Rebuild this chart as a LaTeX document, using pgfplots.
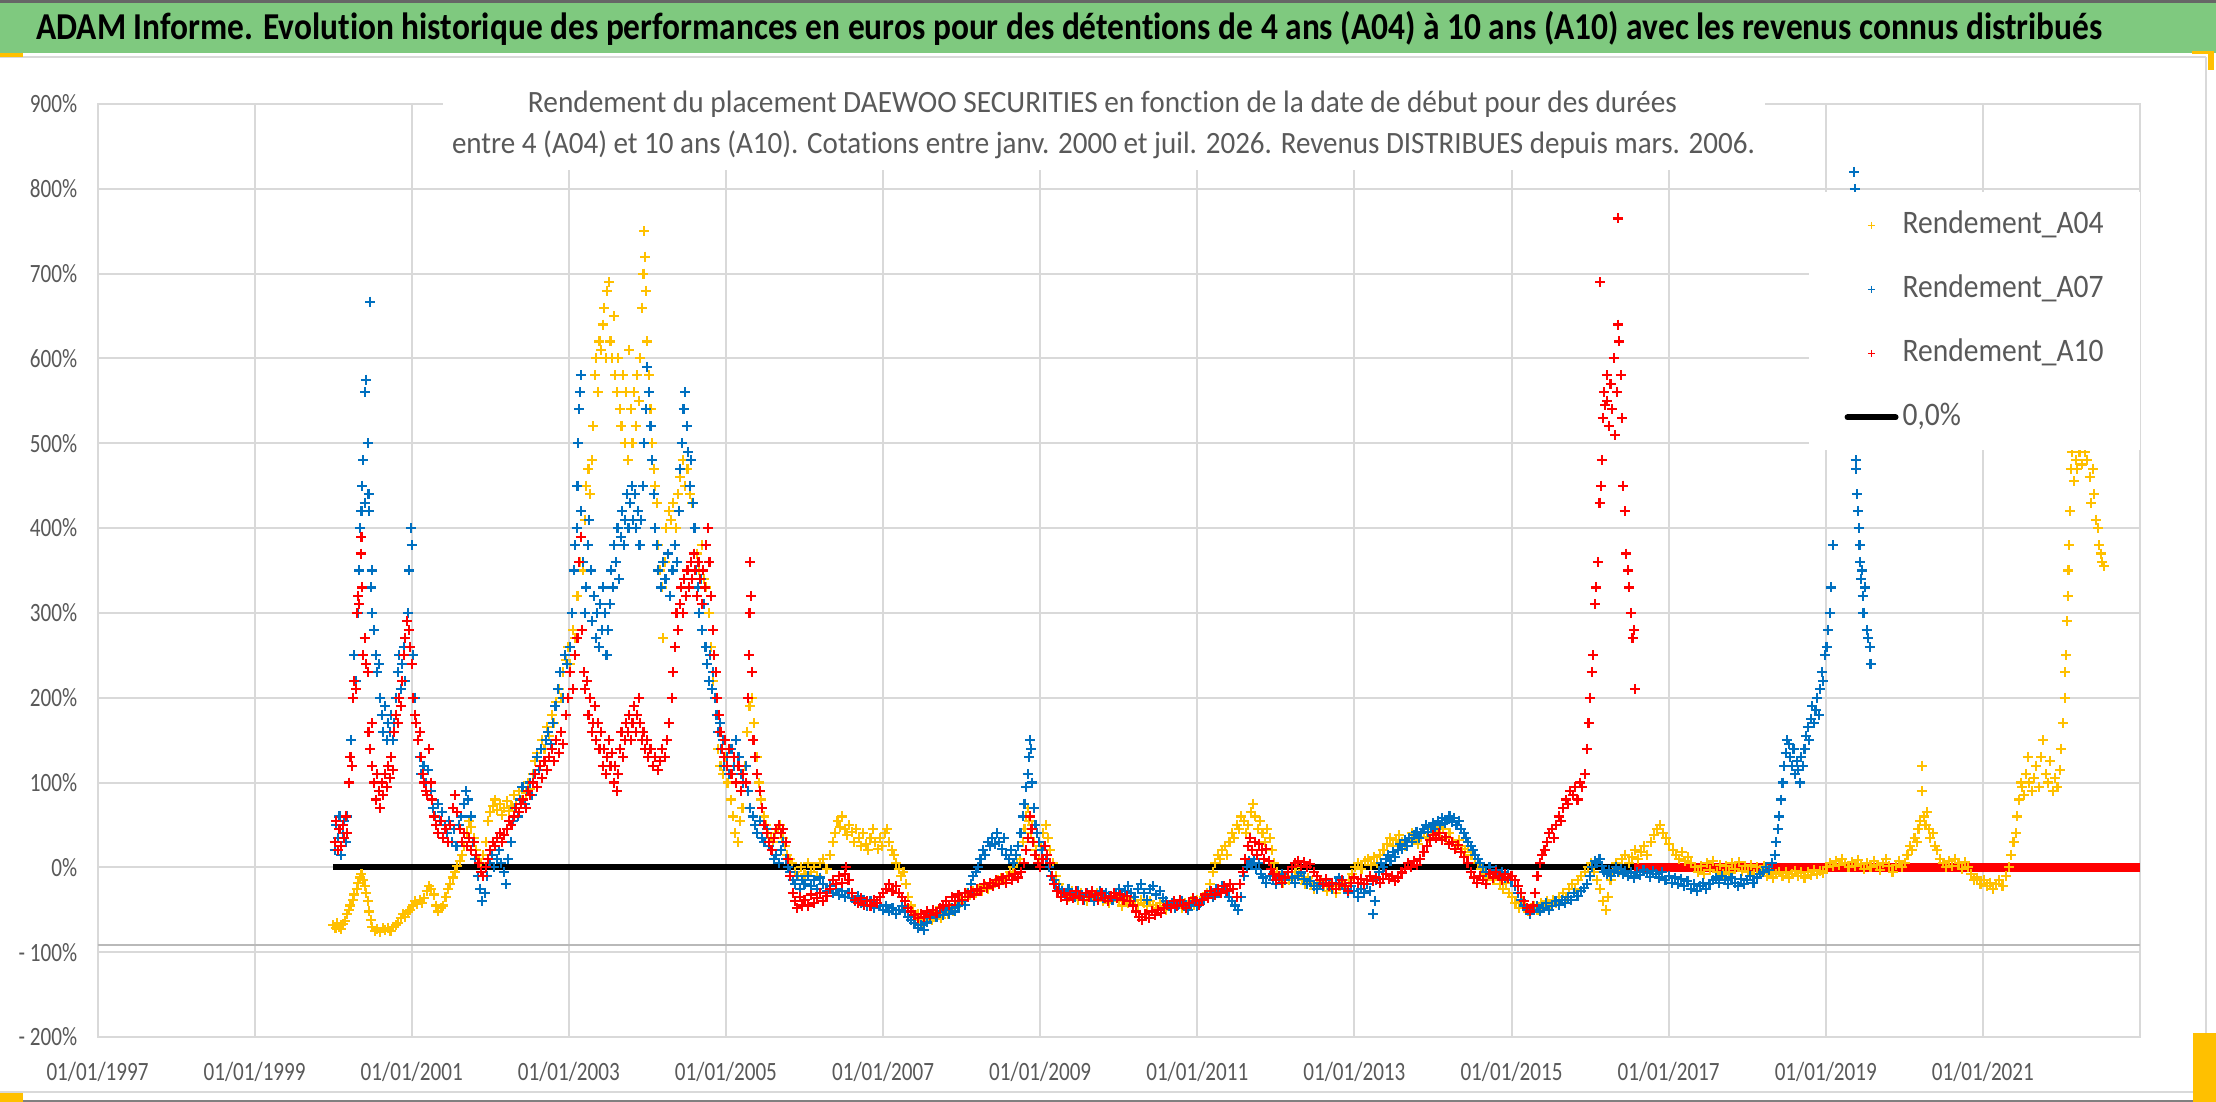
\documentclass[border=0pt]{standalone}
\usepackage{fontspec}
\setmainfont{Carlito}[Ligatures=NoCommon]
\newfontfamily\tickfont{Carlito}[FakeStretch=0.8]
\newfontfamily\legfont{Carlito}[FakeStretch=0.9]
\usepackage{graphicx}
\usepackage{pgfplots}
\pgfplotsset{compat=1.18}
\definecolor{cA04}{HTML}{FFC000}
\definecolor{cA07}{HTML}{0070C0}
\definecolor{cA10}{HTML}{FF0000}
\definecolor{gridc}{HTML}{D9D9D9}
\definecolor{txt}{HTML}{595959}
\definecolor{banner}{HTML}{7FC97F}
\pgfplotsset{
  markleg/.style={legend image code/.code={\draw[mark repeat=2,mark phase=2,##1,mark size=1.8pt,mark options={line width=0.7pt}] plot coordinates {(0pt,0pt) (12pt,0pt) (24pt,0pt)};}},
  lineleg/.style={legend image code/.code={\draw[##1, line cap=round] (0pt,0pt) -- (24pt,0pt);}},
}
\begin{document}
\begin{tikzpicture}[x=1pt,y=1pt]
\useasboundingbox (0,0) rectangle (1108,551);
\fill[white] (0,0) rectangle (1108,551);
\fill[banner] (0,524.5) rectangle (1108,551);
\draw[black!60, line width=1.5pt] (0,550.25) -- (1108,550.25);
\draw[gridc, line width=1pt] (0,522.5) -- (1103,522.5);
\draw[gridc, line width=1pt] (1103,522.5) -- (1103,5) -- (0,5);
\draw[black!50, line width=1pt] (0,0.5) -- (1108,0.5);
\fill[cA04] (0,0) rectangle (11.5,4.5);
\fill[cA04] (1096.5,0) rectangle (1108,34.5);
\fill[cA04] (1096,524) rectangle (1107,525.5);
\fill[cA04] (1104,516) rectangle (1107,525.5);
\fill[cA04] (0,522.5) rectangle (11.5,524.5);
\node[anchor=base west, inner sep=0pt] at (18,531.4) {\resizebox{1033pt}{\height}{\bfseries\fontsize{19}{22}\selectfont ADAM Informe. Evolution historique des performances en euros pour des détentions de 4 ans (A04) à 10 ans (A10) avec les revenus connus distribués}};
\begin{axis}[
  at={(48.75pt,32.5pt)}, anchor=south west,
  scale only axis, width=1021.25pt, height=466.5pt,
  xmin=1997, xmax=2023, ymin=-200, ymax=900,
  xtick={1997,1999,...,2021},
  xticklabels={01/01/1997,01/01/1999,01/01/2001,01/01/2003,01/01/2005,01/01/2007,01/01/2009,01/01/2011,01/01/2013,01/01/2015,01/01/2017,01/01/2019,01/01/2021},
  ytick={-200,-100,...,900},
  yticklabels={- 200\%,- 100\%,0\%,100\%,200\%,300\%,400\%,500\%,600\%,700\%,800\%,900\%},
  major tick length=0pt, tick style={draw=none},
  grid=major, major grid style={gridc, line width=1pt},
  axis line style={gridc, line width=1pt},
  ticklabel style={font=\tickfont\fontsize{13.2}{15}\selectfont, text=txt},
  xticklabel style={anchor=base, inner sep=0pt, yshift=-21.6pt},
  yticklabel style={anchor=east, inner sep=0pt, xshift=-10pt},
  legend style={at={(rel axis cs:1,0.9057)}, anchor=north east, draw=none, fill=white,
    font=\legfont\fontsize{16.4}{19}\selectfont, text=txt, inner xsep=18pt, inner ysep=9.5pt,
    row sep=18pt, nodes={inner sep=0pt, text height=11pt, text depth=3pt},
    /tikz/every odd column/.append style={column sep=2pt}},
  legend cell align=left,
  mark options={line width=1.05pt},
]
\addplot[gray!55, line width=1pt, forget plot] coordinates {(1997,-91) (2023,-91)};
\addplot[black, line width=3pt, forget plot] coordinates {(2000.0,0) (2016.56,0)};
% ---------- A04 ----------
\addplot[only marks, mark=+, mark size=2.5pt, cA04, markleg]
coordinates {
(2000.00,-68) (2000.03,-72) (2000.05,-66) (2000.08,-70) (2000.10,-73) (2000.13,-67) (2000.15,-63) (2000.18,-55) (2000.20,-50) (2000.22,-45)
(2000.25,-38) (2000.27,-32) (2000.30,-25) (2000.32,-18) (2000.34,-12) (2000.36,-8) (2000.38,-15) (2000.40,-22) (2000.42,-30) (2000.44,-40)
(2000.46,-52) (2000.48,-62) (2000.50,-70) (2000.53,-75) (2000.56,-73) (2000.60,-76) (2000.63,-72) (2000.66,-74) (2000.70,-71) (2000.73,-75)
(2000.76,-70) (2000.80,-68) (2000.83,-66) (2000.86,-60) (2000.89,-55) (2000.92,-58) (2000.95,-52) (2000.98,-50) (2001.01,-45) (2001.04,-40)
(2001.07,-43) (2001.10,-38) (2001.13,-42) (2001.16,-36) (2001.19,-28) (2001.22,-22) (2001.25,-26) (2001.28,-32) (2001.31,-45) (2001.34,-52)
(2001.37,-48) (2001.40,-45) (2001.43,-35) (2001.46,-25) (2001.49,-20) (2001.52,-12) (2001.55,-5) (2001.58,2) (2001.61,8) (2001.64,15)
(2001.67,25) (2001.70,40) (2001.73,55) (2001.76,48) (2001.79,35) (2001.82,20) (2001.85,10) (2001.88,5) (2001.91,15) (2001.94,30)
(2001.97,55) (2002.00,65) (2002.03,72) (2002.06,80) (2002.09,68) (2002.12,75) (2002.15,62) (2002.18,70) (2002.21,78) (2002.24,66)
(2002.27,72) (2002.30,85) (2002.33,75) (2002.36,90) (2002.39,80) (2002.42,95) (2002.45,88) (2002.48,100) (2002.51,92) (2002.54,110)
(2002.57,125) (2002.60,135) (2002.63,120) (2002.66,150) (2002.69,140) (2002.72,165) (2002.75,155) (2002.78,180) (2002.81,170) (2002.84,195)
(2002.87,210) (2002.90,200) (2002.93,230) (2002.96,245) (2002.99,260) (2003.02,240) (2003.05,280) (2003.08,270) (2003.11,320) (2003.14,360)
(2003.16,390) (2003.18,350) (2003.20,410) (2003.22,450) (2003.25,470) (2003.27,440) (2003.29,480) (2003.31,520) (2003.33,580) (2003.35,600)
(2003.37,560) (2003.39,620) (2003.41,610) (2003.43,640) (2003.45,660) (2003.47,600) (2003.49,680) (2003.51,690) (2003.53,620) (2003.55,600)
(2003.57,650) (2003.59,580) (2003.61,560) (2003.63,600) (2003.65,540) (2003.67,520) (2003.69,580) (2003.71,500) (2003.73,560) (2003.75,480)
(2003.77,610) (2003.79,540) (2003.81,500) (2003.83,560) (2003.85,520) (2003.87,580) (2003.89,550) (2003.91,600) (2003.93,660) (2003.95,700)
(2003.96,750) (2003.97,720) (2003.98,680) (2004.00,620) (2004.02,580) (2004.04,540) (2004.06,500) (2004.08,470) (2004.10,450) (2004.12,430)
(2004.14,380) (2004.16,350) (2004.18,330) (2004.20,270) (2004.22,360) (2004.24,400) (2004.27,420) (2004.30,410) (2004.33,430) (2004.36,400)
(2004.39,440) (2004.42,460) (2004.45,480) (2004.48,450) (2004.51,470) (2004.54,440) (2004.57,430) (2004.60,400) (2004.63,370) (2004.66,350)
(2004.69,380) (2004.72,340) (2004.75,330) (2004.78,300) (2004.81,260) (2004.84,220) (2004.87,200) (2004.90,140) (2004.93,120) (2004.96,110)
(2004.99,130) (2005.02,100) (2005.06,80) (2005.09,60) (2005.12,40) (2005.15,30) (2005.18,55) (2005.21,70) (2005.24,120) (2005.27,160)
(2005.30,190) (2005.33,200) (2005.36,170) (2005.39,130) (2005.42,100) (2005.45,80) (2005.48,60) (2005.51,50) (2005.54,40) (2005.57,35)
(2005.60,30) (2005.63,40) (2005.66,45) (2005.69,50) (2005.72,35) (2005.75,25) (2005.78,15) (2005.81,10)
(2005.84,5) (2005.88,-5) (2005.92,-10) (2005.96,0) (2006.00,-8) (2006.04,5) (2006.08,-5) (2006.12,0) (2006.16,-10) (2006.20,5)
(2006.24,10) (2006.28,-2) (2006.32,15) (2006.36,30) (2006.39,40) (2006.42,55) (2006.45,48) (2006.48,60) (2006.51,45) (2006.54,38)
(2006.57,50) (2006.60,42) (2006.63,30) (2006.66,45) (2006.69,35) (2006.72,25) (2006.75,40) (2006.78,28) (2006.81,20) (2006.84,35)
(2006.87,45) (2006.90,30) (2006.93,22) (2006.96,35) (2006.99,25) (2007.02,40) (2007.05,45) (2007.08,30) (2007.11,20) (2007.14,15)
(2007.17,5) (2007.20,-2) (2007.23,-10) (2007.26,-5) (2007.29,-20) (2007.32,-35) (2007.35,-45) (2007.38,-52) (2007.41,-58) (2007.44,-55)
(2007.47,-62) (2007.50,-65) (2007.53,-58) (2007.56,-60) (2007.59,-55) (2007.62,-62) (2007.65,-58) (2007.68,-52) (2007.71,-56) (2007.74,-60)
(2007.77,-54) (2007.80,-50) (2007.83,-55) (2007.86,-48) (2007.89,-52) (2007.92,-45) (2007.95,-40) (2007.98,-42) (2008.01,-38) (2008.04,-35)
(2008.07,-30) (2008.10,-33) (2008.14,-28) (2008.18,-30) (2008.22,-25) (2008.26,-28) (2008.30,-22) (2008.34,-25) (2008.38,-20) (2008.42,-18)
(2008.46,-15) (2008.50,-12) (2008.54,-15) (2008.58,-10) (2008.62,-5) (2008.66,0) (2008.70,5) (2008.74,10) (2008.78,30) (2008.80,45)
(2008.82,60) (2008.84,70) (2008.86,55) (2008.88,40) (2008.90,50) (2008.92,30) (2008.95,20) (2008.98,10) (2009.01,25) (2009.04,40)
(2009.07,50) (2009.10,35) (2009.13,20) (2009.16,5) (2009.20,-10) (2009.24,-20) (2009.28,-25) (2009.32,-30) (2009.36,-35) (2009.40,-28)
(2009.44,-32) (2009.48,-38) (2009.52,-30) (2009.56,-35) (2009.60,-40) (2009.64,-33) (2009.68,-37) (2009.72,-30) (2009.76,-35) (2009.80,-40)
(2009.84,-36) (2009.88,-42) (2009.92,-38) (2009.96,-35) (2010.00,-40) (2010.04,-45) (2010.08,-38) (2010.12,-42) (2010.16,-36) (2010.20,-40)
(2010.24,-44) (2010.28,-38) (2010.32,-42) (2010.36,-46) (2010.40,-40) (2010.44,-44) (2010.48,-48) (2010.52,-42) (2010.56,-46) (2010.60,-50)
(2010.64,-45) (2010.68,-42) (2010.72,-47) (2010.76,-44) (2010.80,-48) (2010.84,-42) (2010.88,-45) (2010.92,-40) (2010.96,-44) (2011.00,-38)
(2011.04,-42) (2011.08,-35) (2011.12,-30) (2011.16,-20) (2011.20,-5) (2011.23,5) (2011.26,15) (2011.29,10) (2011.32,20) (2011.35,25)
(2011.38,15) (2011.41,30) (2011.44,40) (2011.47,35) (2011.50,50) (2011.53,45) (2011.56,60) (2011.59,55) (2011.62,40) (2011.65,50)
(2011.68,65) (2011.71,75) (2011.74,60) (2011.77,45) (2011.80,55) (2011.83,40) (2011.86,30) (2011.89,45) (2011.92,35) (2011.95,20)
(2011.98,5) (2012.01,-5) (2012.05,-12) (2012.09,-18) (2012.13,-10) (2012.17,-15) (2012.21,-5) (2012.25,0) (2012.29,-8) (2012.33,-15)
(2012.37,-20) (2012.41,-12) (2012.45,-18) (2012.49,-25) (2012.53,-20) (2012.57,-15) (2012.61,-22) (2012.65,-28) (2012.69,-20) (2012.73,-25)
(2012.77,-30) (2012.81,-22) (2012.85,-18) (2012.89,-25) (2012.93,-15) (2012.97,-8) (2013.01,0) (2013.05,5) (2013.09,-2) (2013.13,8)
(2013.17,10) (2013.21,3) (2013.25,12) (2013.29,5) (2013.33,15) (2013.37,20) (2013.41,28) (2013.45,35) (2013.49,25) (2013.53,32)
(2013.57,38) (2013.61,30) (2013.65,25) (2013.69,35) (2013.73,40) (2013.77,32) (2013.81,28) (2013.85,36) (2013.89,42) (2013.93,35)
(2013.97,45) (2014.01,38) (2014.05,48) (2014.09,40) (2014.13,45) (2014.17,35) (2014.21,40) (2014.25,30) (2014.29,25) (2014.33,32)
(2014.37,22) (2014.41,18) (2014.45,25) (2014.49,15) (2014.53,10) (2014.57,5) (2014.61,-2) (2014.65,-8) (2014.69,-12) (2014.73,-5)
(2014.77,-15) (2014.81,-10) (2014.85,-20) (2014.89,-25) (2014.93,-18) (2014.97,-30)
(2015.01,-35) (2015.05,-42) (2015.09,-48) (2015.13,-40) (2015.17,-45) (2015.21,-52) (2015.25,-48) (2015.29,-45) (2015.33,-50) (2015.37,-42)
(2015.41,-46) (2015.45,-40) (2015.49,-44) (2015.53,-38) (2015.57,-42) (2015.61,-35) (2015.65,-30) (2015.69,-35) (2015.73,-25) (2015.77,-20)
(2015.81,-25) (2015.85,-15) (2015.89,-10) (2015.93,-5) (2015.97,0) (2016.01,5) (2016.05,-5) (2016.09,-15) (2016.13,-25) (2016.17,-40)
(2016.20,-50) (2016.23,-35) (2016.26,-15) (2016.29,-5) (2016.33,5) (2016.37,-5) (2016.41,10) (2016.45,15) (2016.49,5) (2016.53,12)
(2016.57,20) (2016.61,10) (2016.65,18) (2016.69,25) (2016.73,15) (2016.77,30) (2016.81,38) (2016.85,45) (2016.89,50) (2016.93,40)
(2016.97,35) (2017.01,28) (2017.05,20) (2017.09,15) (2017.13,10) (2017.17,18) (2017.21,8) (2017.25,12) (2017.29,5) (2017.33,0)
(2017.37,-5) (2017.41,2) (2017.45,-8) (2017.49,5) (2017.53,-3) (2017.57,8) (2017.61,-5) (2017.65,3) (2017.69,-8) (2017.73,2)
(2017.77,-6) (2017.81,5) (2017.85,-2) (2017.89,6) (2017.93,-4) (2017.97,2) (2018.01,-5) (2018.05,3) (2018.09,-8) (2018.13,0)
(2018.17,-6) (2018.21,2) (2018.25,-10) (2018.29,-5) (2018.33,-12) (2018.37,-8) (2018.41,-5) (2018.45,-10) (2018.49,-6) (2018.53,-12)
(2018.57,-8) (2018.61,-4) (2018.65,-10) (2018.69,-6) (2018.73,-12) (2018.77,-5) (2018.81,-9) (2018.85,-3) (2018.89,-8) (2018.93,-4)
(2018.97,-7) (2019.01,0) (2019.05,5) (2019.09,2) (2019.13,8) (2019.17,3) (2019.21,10) (2019.25,5) (2019.29,0) (2019.33,6)
(2019.37,2) (2019.41,9) (2019.45,4) (2019.49,-2) (2019.53,5) (2019.57,0) (2019.61,8) (2019.65,3) (2019.69,-3) (2019.73,5)
(2019.77,10) (2019.81,2) (2019.85,-5) (2019.89,3) (2019.93,8) (2019.97,0) (2020.01,5) (2020.04,15) (2020.07,25) (2020.10,20)
(2020.13,35) (2020.16,30) (2020.18,45) (2020.20,55) (2020.22,90) (2020.23,120) (2020.25,60) (2020.27,50) (2020.29,65) (2020.31,45)
(2020.33,35) (2020.36,40) (2020.39,25) (2020.42,20) (2020.45,10) (2020.49,5) (2020.53,0) (2020.57,8) (2020.61,2) (2020.65,10)
(2020.69,5) (2020.73,-2) (2020.77,6) (2020.81,0) (2020.85,-8) (2020.89,-15) (2020.93,-12) (2020.97,-20) (2021.01,-15) (2021.05,-22)
(2021.09,-18) (2021.13,-25) (2021.17,-20) (2021.21,-15) (2021.25,-22) (2021.29,-10) (2021.33,0) (2021.36,15) (2021.39,30) (2021.42,40)
(2021.44,60) (2021.46,80) (2021.48,100) (2021.50,95) (2021.52,85) (2021.55,110) (2021.57,130) (2021.59,100) (2021.62,90) (2021.65,105)
(2021.68,120) (2021.71,95) (2021.74,130) (2021.77,150) (2021.80,110) (2021.83,100) (2021.86,125) (2021.89,90) (2021.92,105) (2021.95,95)
(2021.98,115) (2022.00,140) (2022.02,170) (2022.04,200) (2022.05,230) (2022.06,250) (2022.07,290) (2022.08,320) (2022.09,350) (2022.10,380)
(2022.11,420) (2022.12,470) (2022.14,490) (2022.16,455) (2022.18,480) (2022.20,470) (2022.23,490) (2022.26,475) (2022.30,490) (2022.33,480)
(2022.36,460) (2022.38,430) (2022.40,470) (2022.42,440) (2022.44,410) (2022.46,400) (2022.48,380) (2022.50,370) (2022.52,360) (2022.54,355)
};
\addlegendentry{Rendement\_A04}
% ---------- A07 ----------
\addplot[only marks, mark=+, mark size=2.5pt, cA07, markleg]
coordinates {
(2000.02,20) (2000.04,50) (2000.06,35) (2000.08,60) (2000.10,15) (2000.12,40) (2000.14,55) (2000.16,30) (2000.18,60) (2000.20,100)
(2000.22,130) (2000.23,150) (2000.25,200) (2000.27,250) (2000.29,220) (2000.31,300) (2000.33,350) (2000.34,400) (2000.36,420) (2000.37,450)
(2000.38,480) (2000.40,430) (2000.41,560) (2000.42,575) (2000.44,500) (2000.45,440) (2000.46,420) (2000.47,667) (2000.48,330) (2000.49,350)
(2000.50,300) (2000.52,280) (2000.54,250) (2000.56,230) (2000.58,240) (2000.60,200) (2000.62,180) (2000.64,160) (2000.66,190) (2000.68,150)
(2000.70,170) (2000.72,160) (2000.74,180) (2000.76,150) (2000.78,170) (2000.80,200) (2000.82,230) (2000.84,250) (2000.86,210) (2000.88,240)
(2000.90,260) (2000.92,220) (2000.95,300) (2000.97,350) (2000.99,400) (2001.00,380) (2001.02,250) (2001.04,200) (2001.06,170) (2001.08,150)
(2001.10,130) (2001.12,110) (2001.15,120) (2001.18,100) (2001.21,115) (2001.24,90) (2001.27,70) (2001.30,60) (2001.33,75) (2001.36,55)
(2001.39,65) (2001.42,50) (2001.45,40) (2001.48,55) (2001.51,30) (2001.54,45) (2001.57,25) (2001.60,50) (2001.63,60) (2001.66,75)
(2001.69,90) (2001.72,80) (2001.75,60) (2001.78,30) (2001.81,10) (2001.84,-10) (2001.87,-25) (2001.90,-40) (2001.93,-30) (2001.96,-10)
(2001.99,5) (2002.02,15) (2002.05,0) (2002.08,10) (2002.11,20) (2002.14,5) (2002.17,-5) (2002.20,-20) (2002.23,10) (2002.26,30)
(2002.29,55) (2002.32,70) (2002.35,60) (2002.38,80) (2002.41,95) (2002.44,75) (2002.47,90) (2002.50,100) (2002.53,85) (2002.56,110)
(2002.59,130) (2002.62,115) (2002.65,140) (2002.68,125) (2002.71,150) (2002.74,160) (2002.77,145) (2002.80,170) (2002.83,190) (2002.86,210)
(2002.89,230) (2002.92,200) (2002.95,250) (2002.98,240) (2003.01,260) (2003.04,300) (2003.06,350) (2003.08,380) (2003.10,400) (2003.11,450)
(2003.12,500) (2003.13,540) (2003.14,560) (2003.15,580) (2003.16,420) (2003.18,360) (2003.20,300) (2003.22,330) (2003.24,380) (2003.26,410)
(2003.28,350) (2003.30,290) (2003.32,320) (2003.34,270) (2003.36,300) (2003.38,260) (2003.40,310) (2003.42,280) (2003.44,330) (2003.46,300)
(2003.48,250) (2003.50,280) (2003.52,310) (2003.54,350) (2003.56,330) (2003.58,380) (2003.60,360) (2003.62,400) (2003.64,340) (2003.66,390)
(2003.68,420) (2003.70,380) (2003.72,410) (2003.74,440) (2003.76,400) (2003.78,430) (2003.80,450) (2003.82,410) (2003.84,440) (2003.86,400)
(2003.88,420) (2003.90,380) (2003.92,410) (2003.94,450) (2003.96,500) (2003.98,540) (2004.00,590) (2004.02,560) (2004.04,520) (2004.06,480)
(2004.08,440) (2004.10,400) (2004.12,380) (2004.14,350) (2004.17,330) (2004.20,360) (2004.23,340) (2004.26,370) (2004.29,320) (2004.32,350)
(2004.35,380) (2004.38,360) (2004.40,420) (2004.42,470) (2004.44,500) (2004.46,540) (2004.48,560) (2004.50,520) (2004.52,490) (2004.54,450)
(2004.56,480) (2004.58,430) (2004.60,400) (2004.62,350) (2004.64,330) (2004.66,300) (2004.68,340) (2004.70,280) (2004.72,310) (2004.74,260)
(2004.76,240) (2004.78,220) (2004.80,250) (2004.82,210) (2004.84,230) (2004.86,200) (2004.88,180) (2004.90,160) (2004.92,170) (2004.94,140)
(2004.96,150) (2004.98,120) (2005.01,130) (2005.04,110) (2005.07,140) (2005.10,120) (2005.13,150) (2005.16,130) (2005.19,110) (2005.22,100)
(2005.25,120) (2005.28,90) (2005.31,70) (2005.34,60) (2005.37,50) (2005.40,40) (2005.43,55) (2005.46,35) (2005.49,30) (2005.52,45)
(2005.55,25) (2005.58,20) (2005.61,10) (2005.64,15) (2005.67,5) (2005.70,20) (2005.73,30) (2005.76,10) (2005.79,0) (2005.82,-5)
(2005.85,-15) (2005.88,-20) (2005.91,-10) (2005.94,-25) (2005.97,-15) (2006.00,-20)
(2006.04,-10) (2006.08,-22) (2006.12,-15) (2006.16,-25) (2006.20,-12) (2006.24,-20) (2006.28,-28) (2006.32,-22) (2006.36,-30) (2006.40,-25)
(2006.44,-33) (2006.48,-28) (2006.52,-35) (2006.56,-30) (2006.60,-36) (2006.64,-40) (2006.68,-34) (2006.72,-42) (2006.76,-38) (2006.80,-45)
(2006.84,-40) (2006.88,-48) (2006.92,-42) (2006.96,-46) (2007.00,-50) (2007.04,-45) (2007.08,-52) (2007.12,-48) (2007.16,-55) (2007.20,-50)
(2007.24,-46) (2007.28,-53) (2007.32,-58) (2007.36,-62) (2007.40,-66) (2007.44,-72) (2007.48,-68) (2007.52,-74) (2007.56,-65) (2007.60,-60)
(2007.64,-55) (2007.68,-58) (2007.72,-52) (2007.76,-56) (2007.80,-50) (2007.84,-55) (2007.88,-48) (2007.92,-52) (2007.96,-45) (2008.00,-40)
(2008.04,-44) (2008.08,-30) (2008.12,-20) (2008.15,-10) (2008.18,-5) (2008.21,0) (2008.24,10) (2008.27,20) (2008.30,15) (2008.33,30)
(2008.36,25) (2008.39,35) (2008.42,28) (2008.45,40) (2008.48,30) (2008.51,22) (2008.54,35) (2008.57,15) (2008.60,10) (2008.63,20)
(2008.66,5) (2008.69,15) (2008.72,25) (2008.75,40) (2008.78,60) (2008.80,75) (2008.82,95) (2008.84,110) (2008.86,130) (2008.87,150)
(2008.88,140) (2008.90,100) (2008.92,70) (2008.94,50) (2008.96,40) (2008.99,30) (2009.02,20) (2009.05,25) (2009.08,10) (2009.11,0)
(2009.14,-10) (2009.17,-15) (2009.20,-20) (2009.24,-25) (2009.28,-28) (2009.32,-32) (2009.36,-25) (2009.40,-30) (2009.44,-35) (2009.48,-28)
(2009.52,-33) (2009.56,-38) (2009.60,-30) (2009.64,-35) (2009.68,-40) (2009.72,-32) (2009.76,-28) (2009.80,-36) (2009.84,-30) (2009.88,-34)
(2009.92,-38) (2009.96,-30) (2010.00,-25) (2010.04,-32) (2010.08,-28) (2010.12,-22) (2010.16,-30) (2010.20,-35) (2010.24,-25) (2010.28,-20)
(2010.32,-30) (2010.36,-38) (2010.40,-26) (2010.44,-22) (2010.48,-32) (2010.52,-28) (2010.56,-36) (2010.60,-40) (2010.64,-45) (2010.68,-42)
(2010.72,-48) (2010.76,-44) (2010.80,-40) (2010.84,-46) (2010.88,-50) (2010.92,-44) (2010.96,-40) (2011.00,-46) (2011.04,-42) (2011.08,-38)
(2011.12,-32) (2011.16,-28) (2011.20,-35) (2011.24,-25) (2011.28,-30) (2011.32,-22) (2011.36,-28) (2011.40,-35) (2011.44,-40) (2011.48,-45)
(2011.52,-50) (2011.56,-35) (2011.60,-10) (2011.63,0) (2011.66,8) (2011.69,3) (2011.72,10) (2011.75,-2) (2011.78,5) (2011.81,-8)
(2011.84,-12) (2011.88,-18) (2011.92,-10) (2011.96,-15) (2012.00,-20) (2012.04,-12) (2012.08,-8) (2012.12,-15) (2012.16,-5) (2012.20,-12)
(2012.24,-18) (2012.28,-10) (2012.32,-6) (2012.36,-14) (2012.40,-20) (2012.44,-16) (2012.48,-22) (2012.52,-25) (2012.56,-18) (2012.60,-22)
(2012.64,-15) (2012.68,-20) (2012.72,-25) (2012.76,-18) (2012.80,-12) (2012.84,-20) (2012.88,-25) (2012.92,-30) (2012.96,-22) (2013.00,-28)
(2013.04,-35) (2013.08,-25) (2013.12,-30) (2013.16,-20) (2013.20,-28) (2013.24,-55) (2013.26,-40) (2013.28,-15) (2013.31,-5) (2013.34,5)
(2013.37,0) (2013.40,10) (2013.43,15) (2013.46,8) (2013.49,18) (2013.52,12) (2013.55,20) (2013.58,28) (2013.61,22) (2013.64,32)
(2013.67,25) (2013.70,35) (2013.73,30) (2013.76,38) (2013.79,42) (2013.82,35) (2013.85,40) (2013.88,45) (2013.91,50) (2013.94,42)
(2013.97,48) (2014.00,52) (2014.03,45) (2014.06,55) (2014.09,50) (2014.12,58) (2014.15,52) (2014.18,56) (2014.21,60) (2014.24,54)
(2014.27,58) (2014.30,50) (2014.33,55) (2014.36,45) (2014.39,40) (2014.42,35) (2014.45,30) (2014.48,25) (2014.51,20) (2014.54,15)
(2014.57,10) (2014.60,5) (2014.64,0) (2014.68,-5) (2014.72,0) (2014.76,-8) (2014.80,-3) (2014.84,-10) (2014.88,-5) (2014.92,-12)
(2014.96,-8) (2015.00,-15)
(2015.04,-22) (2015.08,-30) (2015.12,-38) (2015.16,-45) (2015.20,-50) (2015.24,-55) (2015.28,-50) (2015.32,-45) (2015.36,-52) (2015.40,-48)
(2015.44,-42) (2015.48,-50) (2015.52,-46) (2015.56,-40) (2015.60,-44) (2015.64,-38) (2015.68,-42) (2015.72,-35) (2015.76,-38) (2015.80,-30)
(2015.84,-34) (2015.88,-28) (2015.92,-24) (2015.96,-20) (2016.00,-10) (2016.03,0) (2016.06,8) (2016.09,5) (2016.12,10) (2016.15,2)
(2016.18,-5) (2016.21,-8) (2016.24,-3) (2016.27,-10) (2016.30,-5) (2016.33,0) (2016.36,-6) (2016.39,-2) (2016.42,-8) (2016.45,-4)
(2016.48,-10) (2016.52,-6) (2016.56,-12) (2016.60,-5) (2016.64,-9) (2016.68,-3) (2016.72,-7) (2016.76,-11) (2016.80,-4) (2016.84,-8)
(2016.88,-12) (2016.92,-5) (2016.96,-15) (2017.00,-10) (2017.04,-18) (2017.08,-12) (2017.12,-20) (2017.16,-14) (2017.20,-22) (2017.24,-16)
(2017.28,-25) (2017.32,-20) (2017.36,-28) (2017.40,-22) (2017.44,-18) (2017.48,-25) (2017.52,-20) (2017.56,-15) (2017.60,-12) (2017.64,-18)
(2017.68,-10) (2017.72,-15) (2017.76,-20) (2017.80,-12) (2017.84,-18) (2017.88,-22) (2017.92,-14) (2017.96,-20) (2018.00,-15) (2018.04,-10)
(2018.08,-18) (2018.12,-12) (2018.16,-8) (2018.20,-5) (2018.24,0) (2018.28,-3) (2018.32,5) (2018.35,15) (2018.37,30) (2018.39,45)
(2018.41,60) (2018.43,80) (2018.45,100) (2018.47,120) (2018.49,135) (2018.51,150) (2018.53,145) (2018.55,130) (2018.57,120) (2018.59,140)
(2018.61,110) (2018.63,125) (2018.65,115) (2018.67,100) (2018.69,130) (2018.71,120) (2018.73,140) (2018.75,155) (2018.77,165) (2018.79,150)
(2018.81,175) (2018.83,190) (2018.85,170) (2018.87,185) (2018.89,200) (2018.91,180) (2018.93,210) (2018.95,230) (2018.97,220) (2018.99,250)
(2019.01,260) (2019.03,280) (2019.05,300) (2019.07,330) (2019.09,380) (2019.15,550) (2019.20,620) (2019.25,700) (2019.30,750) (2019.36,820)
(2019.37,800) (2019.38,480) (2019.39,470) (2019.40,440) (2019.41,420) (2019.42,400) (2019.43,380) (2019.44,360) (2019.45,340) (2019.46,350)
(2019.47,320) (2019.48,300) (2019.50,330) (2019.52,280) (2019.54,270) (2019.56,260) (2019.57,240)
};
\addlegendentry{Rendement\_A07}
% ---------- A10 ----------
\addplot[only marks, mark=+, mark size=2.5pt, cA10, markleg]
coordinates {
(2000.02,30) (2000.04,55) (2000.06,20) (2000.08,45) (2000.10,25) (2000.12,50) (2000.14,35) (2000.16,60) (2000.18,40) (2000.20,100)
(2000.22,130) (2000.24,120) (2000.25,200) (2000.27,220) (2000.29,210) (2000.30,300) (2000.32,320) (2000.33,310) (2000.35,370) (2000.36,390)
(2000.37,330) (2000.38,250) (2000.40,270) (2000.42,240) (2000.44,230) (2000.45,160) (2000.47,140) (2000.49,170) (2000.50,120) (2000.52,100)
(2000.54,80) (2000.56,110) (2000.58,90) (2000.60,70) (2000.62,100) (2000.64,85) (2000.66,110) (2000.68,95) (2000.70,120) (2000.72,105)
(2000.74,130) (2000.76,115) (2000.78,160) (2000.80,180) (2000.82,170) (2000.84,200) (2000.86,190) (2000.88,220) (2000.90,250) (2000.92,270)
(2000.94,290) (2000.96,280) (2000.98,260) (2001.00,240) (2001.02,200) (2001.04,180) (2001.06,170) (2001.08,150) (2001.10,160) (2001.12,130)
(2001.14,110) (2001.16,100) (2001.18,90) (2001.20,85) (2001.22,140) (2001.24,100) (2001.26,80) (2001.28,60) (2001.31,50) (2001.34,40)
(2001.37,55) (2001.40,35) (2001.43,45) (2001.46,30) (2001.49,50) (2001.52,70) (2001.55,85) (2001.58,65) (2001.61,45) (2001.64,30)
(2001.67,40) (2001.70,25) (2001.73,35) (2001.76,20) (2001.79,30) (2001.82,15) (2001.85,5) (2001.88,-5) (2001.91,-10) (2001.94,0)
(2001.97,10) (2002.00,20) (2002.03,30) (2002.06,25) (2002.09,35) (2002.12,40) (2002.15,30) (2002.18,38) (2002.21,45) (2002.24,55)
(2002.27,50) (2002.30,60) (2002.33,70) (2002.36,65) (2002.39,75) (2002.42,80) (2002.45,70) (2002.48,90) (2002.51,85) (2002.54,100)
(2002.57,110) (2002.60,95) (2002.63,120) (2002.66,105) (2002.69,125) (2002.72,115) (2002.75,130) (2002.78,140) (2002.81,125) (2002.84,150)
(2002.87,135) (2002.90,160) (2002.93,145) (2002.96,180) (2002.99,200) (2003.02,230) (2003.05,210) (2003.08,250) (2003.11,270) (2003.13,360)
(2003.15,390) (2003.17,280) (2003.19,230) (2003.21,210) (2003.23,220) (2003.25,180) (2003.27,200) (2003.29,160) (2003.31,170) (2003.33,190)
(2003.35,150) (2003.37,170) (2003.39,140) (2003.41,160) (2003.43,120) (2003.45,140) (2003.47,110) (2003.49,130) (2003.51,150) (2003.53,120)
(2003.55,135) (2003.57,100) (2003.59,120) (2003.61,90) (2003.63,110) (2003.65,140) (2003.67,160) (2003.69,130) (2003.71,150) (2003.73,170)
(2003.75,160) (2003.77,180) (2003.79,150) (2003.81,170) (2003.83,190) (2003.85,160) (2003.87,180) (2003.89,200) (2003.91,170) (2003.93,150)
(2003.95,160) (2003.97,140) (2003.99,150) (2004.01,130) (2004.04,140) (2004.07,120) (2004.10,130) (2004.13,115) (2004.16,125) (2004.19,140)
(2004.22,130) (2004.25,150) (2004.28,170) (2004.31,200) (2004.33,230) (2004.35,260) (2004.37,300) (2004.39,280) (2004.41,310) (2004.43,330)
(2004.45,300) (2004.47,340) (2004.49,320) (2004.51,350) (2004.53,330) (2004.55,360) (2004.57,340) (2004.59,370) (2004.61,350) (2004.63,320)
(2004.65,360) (2004.67,340) (2004.69,310) (2004.71,350) (2004.73,330) (2004.75,380) (2004.77,400) (2004.79,360) (2004.81,320) (2004.83,280)
(2004.85,250) (2004.87,230) (2004.89,200) (2004.91,180) (2004.93,160) (2004.95,140) (2004.97,130) (2004.99,150) (2005.01,120) (2005.04,140)
(2005.07,110) (2005.10,130) (2005.13,100) (2005.16,120) (2005.19,90) (2005.22,110) (2005.25,100) (2005.28,200) (2005.29,250) (2005.30,300)
(2005.31,360) (2005.32,320) (2005.33,230) (2005.35,150) (2005.37,130) (2005.40,110) (2005.43,90) (2005.46,70) (2005.49,50) (2005.52,40)
(2005.55,30) (2005.58,20) (2005.61,35) (2005.64,45) (2005.67,50) (2005.70,40) (2005.73,45) (2005.76,30) (2005.79,10) (2005.82,-10)
(2005.85,-30) (2005.88,-40) (2005.91,-48) (2005.94,-35) (2005.97,-45)
(2006.00,-38) (2006.04,-45) (2006.08,-32) (2006.12,-42) (2006.16,-36) (2006.20,-30) (2006.24,-40) (2006.28,-34) (2006.32,-25) (2006.36,-15)
(2006.40,-20) (2006.44,-10) (2006.48,-18) (2006.51,-8) (2006.53,0) (2006.56,-15) (2006.60,-30) (2006.64,-38) (2006.68,-42) (2006.72,-36) (2006.76,-44)
(2006.80,-40) (2006.84,-45) (2006.88,-38) (2006.92,-42) (2006.96,-35) (2007.00,-30) (2007.04,-25) (2007.08,-20) (2007.12,-28) (2007.16,-22)
(2007.20,-30) (2007.24,-35) (2007.28,-40) (2007.32,-48) (2007.36,-52) (2007.40,-56) (2007.44,-60) (2007.48,-55) (2007.52,-58) (2007.56,-52)
(2007.60,-56) (2007.64,-50) (2007.68,-54) (2007.72,-48) (2007.76,-45) (2007.80,-40) (2007.84,-44) (2007.88,-35) (2007.92,-40) (2007.96,-32)
(2008.00,-38) (2008.04,-30) (2008.08,-35) (2008.12,-28) (2008.16,-32) (2008.20,-25) (2008.24,-28) (2008.28,-20) (2008.32,-24) (2008.36,-18)
(2008.40,-22) (2008.44,-15) (2008.48,-20) (2008.52,-12) (2008.56,-18) (2008.60,-10) (2008.64,-15) (2008.68,-8) (2008.72,-12) (2008.76,-5)
(2008.79,5) (2008.82,20) (2008.85,35) (2008.87,60) (2008.89,45) (2008.91,30) (2008.94,15) (2008.97,5) (2009.00,0) (2009.03,10)
(2009.06,25) (2009.09,15) (2009.12,5) (2009.15,-10) (2009.18,-20) (2009.22,-28) (2009.26,-35) (2009.30,-30) (2009.34,-38) (2009.38,-32)
(2009.42,-36) (2009.46,-28) (2009.50,-34) (2009.54,-38) (2009.58,-30) (2009.62,-35) (2009.66,-28) (2009.70,-33) (2009.74,-38) (2009.78,-30)
(2009.82,-36) (2009.86,-40) (2009.90,-34) (2009.94,-30) (2009.98,-36) (2010.02,-32) (2010.06,-38) (2010.10,-34) (2010.14,-40) (2010.18,-45)
(2010.22,-52) (2010.26,-58) (2010.30,-62) (2010.34,-55) (2010.38,-60) (2010.42,-52) (2010.46,-56) (2010.50,-50) (2010.54,-54) (2010.58,-48)
(2010.62,-44) (2010.66,-48) (2010.70,-40) (2010.74,-45) (2010.78,-38) (2010.82,-44) (2010.86,-48) (2010.90,-42) (2010.94,-36) (2010.98,-40)
(2011.02,-44) (2011.06,-38) (2011.10,-32) (2011.14,-36) (2011.18,-28) (2011.22,-32) (2011.26,-25) (2011.30,-30) (2011.34,-22) (2011.38,-28)
(2011.42,-20) (2011.46,-25) (2011.50,-35) (2011.54,-20) (2011.58,-5) (2011.61,10) (2011.64,25) (2011.67,35) (2011.70,20) (2011.73,30)
(2011.76,15) (2011.79,28) (2011.82,20) (2011.85,10) (2011.88,22) (2011.91,8) (2011.94,-2) (2011.97,-8) (2012.00,-15) (2012.04,-10)
(2012.08,-18) (2012.12,-12) (2012.16,-5) (2012.20,0) (2012.24,5) (2012.28,8) (2012.32,2) (2012.36,6) (2012.40,0) (2012.44,4)
(2012.48,-5) (2012.52,-10) (2012.56,-15) (2012.60,-20) (2012.64,-14) (2012.68,-22) (2012.72,-18) (2012.76,-25) (2012.80,-20) (2012.84,-15)
(2012.88,-22) (2012.92,-28) (2012.96,-18) (2013.00,-12) (2013.04,-18) (2013.08,-14) (2013.12,-20) (2013.16,-15) (2013.20,-10) (2013.24,-16)
(2013.28,-12) (2013.32,-18) (2013.36,-14) (2013.40,-8) (2013.44,-14) (2013.48,-10) (2013.52,-16) (2013.56,-12) (2013.60,-6) (2013.64,-2)
(2013.68,5) (2013.72,0) (2013.76,8) (2013.80,3) (2013.84,10) (2013.88,18) (2013.92,25) (2013.96,32) (2014.00,38) (2014.04,35)
(2014.08,40) (2014.12,32) (2014.16,36) (2014.20,28) (2014.24,30) (2014.28,22) (2014.32,26) (2014.36,18) (2014.40,12) (2014.44,5)
(2014.48,-5) (2014.52,-12) (2014.56,-18) (2014.60,-10) (2014.64,-15) (2014.68,-20) (2014.72,-8) (2014.76,-12) (2014.80,-5) (2014.84,-10)
(2014.88,-15) (2014.92,-8) (2014.96,-12) (2015.00,-10)
(2015.04,-15) (2015.08,-22) (2015.12,-30) (2015.16,-40) (2015.20,-48) (2015.24,-52) (2015.27,-45) (2015.30,-30) (2015.33,-10) (2015.36,5)
(2015.39,15) (2015.42,20) (2015.45,30) (2015.48,40) (2015.51,45) (2015.54,35) (2015.57,50) (2015.60,60) (2015.63,55) (2015.66,70)
(2015.69,80) (2015.72,75) (2015.75,90) (2015.78,85) (2015.81,95) (2015.84,80) (2015.87,100) (2015.90,95) (2015.93,110) (2015.96,140)
(2015.98,170) (2016.00,200) (2016.02,230) (2016.04,250) (2016.06,310) (2016.08,330) (2016.10,360) (2016.12,430) (2016.13,690) (2016.14,450)
(2016.15,480) (2016.16,530) (2016.18,560) (2016.19,545) (2016.21,580) (2016.22,550) (2016.24,520) (2016.26,570) (2016.28,540) (2016.30,600)
(2016.32,510) (2016.34,560) (2016.35,765) (2016.36,640) (2016.37,620) (2016.39,580) (2016.41,530) (2016.42,450) (2016.44,420) (2016.46,370)
(2016.48,350) (2016.50,330) (2016.52,300) (2016.54,270) (2016.56,280) (2016.57,210)
};
\addlegendentry{Rendement\_A10}
\addlegendimage{black, line width=3pt, lineleg}
\addlegendentry{0,0\%}
\addplot[cA10, line width=4.5pt, forget plot] coordinates {(2016.56,0) (2023,0)};
\end{axis}
\fill[white] (221.5,466) rectangle (882.5,500);
\node[anchor=base, inner sep=0pt, text=txt] at (551.25,494.5) {\resizebox{574.5pt}{\height}{\fontsize{15.5}{18}\selectfont Rendement du placement DAEWOO SECURITIES en fonction de la date de début pour des durées}};
\node[anchor=base, inner sep=0pt, text=txt] at (551.75,474) {\resizebox{651.5pt}{\height}{\fontsize{15.5}{18}\selectfont entre 4 (A04) et 10 ans (A10). Cotations entre janv. 2000 et juil. 2026. Revenus DISTRIBUES depuis mars. 2006.}};
\end{tikzpicture}
\end{document}
